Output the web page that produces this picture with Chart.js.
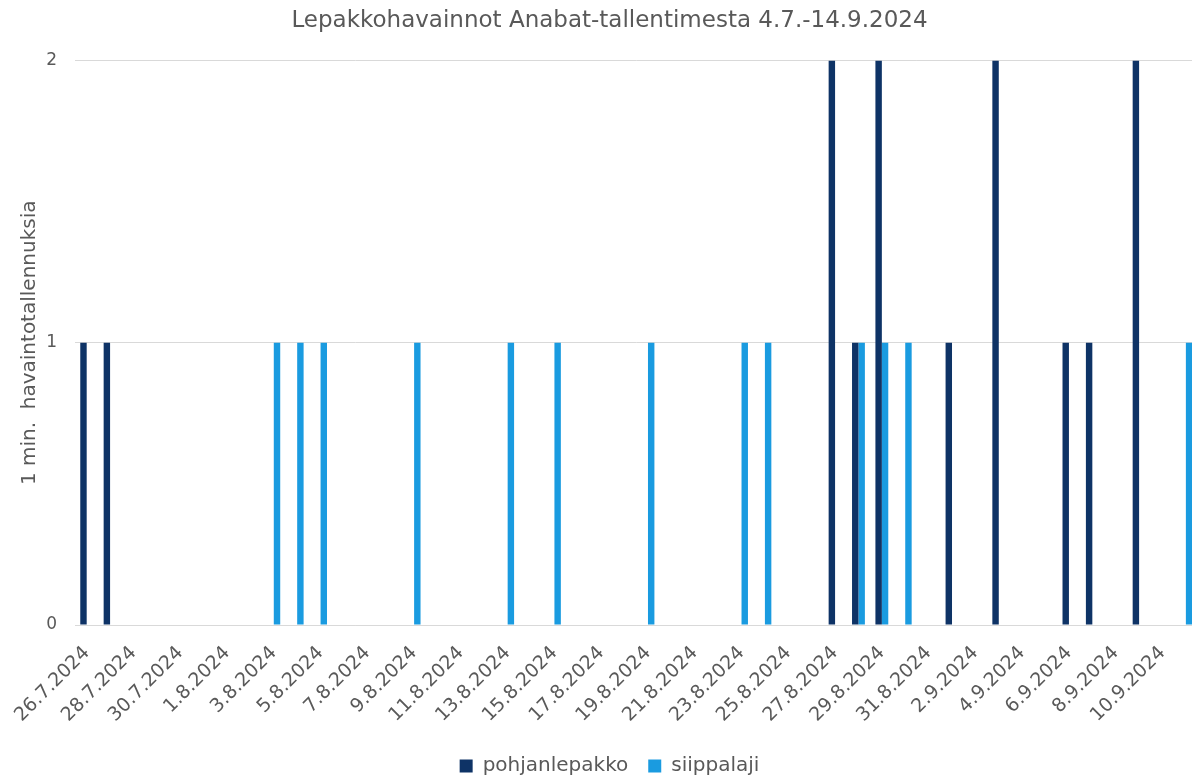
<!DOCTYPE html>
<html>
<head>
<meta charset="utf-8">
<script src="https://cdn.jsdelivr.net/npm/chart.js@4"></script>
<style>
  html, body { margin: 0; padding: 0; background: #fff; overflow: hidden; }
  /* a bit larger than the window: the reference plot runs off the right edge */
  #wrap { width: 1219px; height: 786px; position: relative; }
</style>
</head>
<body>
<div id="wrap"><canvas id="chart"></canvas></div>
<script>
'use strict';

// one category per day, 26.7. – 11.9.2024
const days = [
    '26.7.2024', '27.7.2024', '28.7.2024', '29.7.2024', '30.7.2024', '31.7.2024',
    '1.8.2024', '2.8.2024', '3.8.2024', '4.8.2024', '5.8.2024', '6.8.2024',
    '7.8.2024', '8.8.2024', '9.8.2024', '10.8.2024', '11.8.2024', '12.8.2024',
    '13.8.2024', '14.8.2024', '15.8.2024', '16.8.2024', '17.8.2024', '18.8.2024',
    '19.8.2024', '20.8.2024', '21.8.2024', '22.8.2024', '23.8.2024', '24.8.2024',
    '25.8.2024', '26.8.2024', '27.8.2024', '28.8.2024', '29.8.2024', '30.8.2024',
    '31.8.2024', '1.9.2024', '2.9.2024', '3.9.2024', '4.9.2024', '5.9.2024',
    '6.9.2024', '7.9.2024', '8.9.2024', '9.9.2024', '10.9.2024', '11.9.2024'
];

const pohjanlepakko = [
    1, 1, 0, 0, 0, 0, 0, 0, 0, 0, 0, 0,
    0, 0, 0, 0, 0, 0, 0, 0, 0, 0, 0, 0,
    0, 0, 0, 0, 0, 0, 0, 0, 2, 1, 2, 0,
    0, 1, 0, 2, 0, 0, 1, 1, 0, 2, 0, 0
];

const siippalaji = [
    0, 0, 0, 0, 0, 0, 0, 0, 1, 1, 1, 0,
    0, 0, 1, 0, 0, 0, 1, 0, 1, 0, 0, 0,
    1, 0, 0, 0, 1, 1, 0, 0, 0, 1, 1, 1,
    0, 0, 0, 0, 0, 0, 0, 0, 0, 0, 0, 1
];

const yTicks = [0, 1, 2];

const TEXT = '#595959';
const FONT = "'DejaVu Sans', Verdana, sans-serif";

const ctx = document.getElementById('chart').getContext('2d');

new Chart(ctx, {
    type: 'bar',
    data: {
        labels: days,
        datasets: [
            {
                label: 'pohjanlepakko',
                data: pohjanlepakko,
                backgroundColor: '#0e3366',
                borderWidth: 0
            },
            {
                label: 'siippalaji',
                data: siippalaji,
                backgroundColor: '#1a9be0',
                borderWidth: 0
            }
        ]
    },
    options: {
        responsive: true,
        maintainAspectRatio: false,
        animation: false,
        layout: { padding: { top: 0, right: 0, bottom: 0, left: 0 } },
        datasets: {
            bar: { barPercentage: 1.0, categoryPercentage: 0.55 }
        },
        scales: {
            x: {
                grid: { display: false, drawTicks: false },
                border: { display: true, color: '#d9d9d9' },
                ticks: {
                    autoSkip: false,
                    minRotation: 45,
                    maxRotation: 45,
                    color: TEXT,
                    font: { family: FONT, size: 19 },
                    padding: 17,
                    callback: function (value, index) {
                        return index % 2 === 0 ? days[index] : '';
                    }
                },
                afterFit: function (axis) { axis.height = 111; }
            },
            y: {
                min: 0,
                max: 2,
                afterBuildTicks: function (axis) {
                    axis.ticks = yTicks.map(v => ({ value: v }));
                },
                afterFit: function (axis) { axis.width = 75; },
                grid: { color: '#d9d9d9', drawTicks: false },
                border: { display: false },
                ticks: {
                    color: TEXT,
                    font: { family: FONT, size: 17 },
                    padding: 18
                },
                title: {
                    display: true,
                    text: '1 min.  havaintotallennuksia',
                    color: TEXT,
                    font: { family: FONT, size: 20 },
                    padding: { top: 18, bottom: 0 }
                }
            }
        },
        plugins: {
            title: {
                display: true,
                text: 'Lepakkohavainnot Anabat-tallentimesta 4.7.-14.9.2024',
                color: TEXT,
                font: { family: FONT, size: 23, weight: 'normal' },
                padding: { top: 7, bottom: 26 }
            },
            legend: {
                position: 'bottom',
                labels: {
                    color: TEXT,
                    font: { family: FONT, size: 20 },
                    boxWidth: 13,
                    boxHeight: 13,
                    padding: 20
                }
            },
            tooltip: { enabled: false }
        }
    }
});
</script>
</body>
</html>
